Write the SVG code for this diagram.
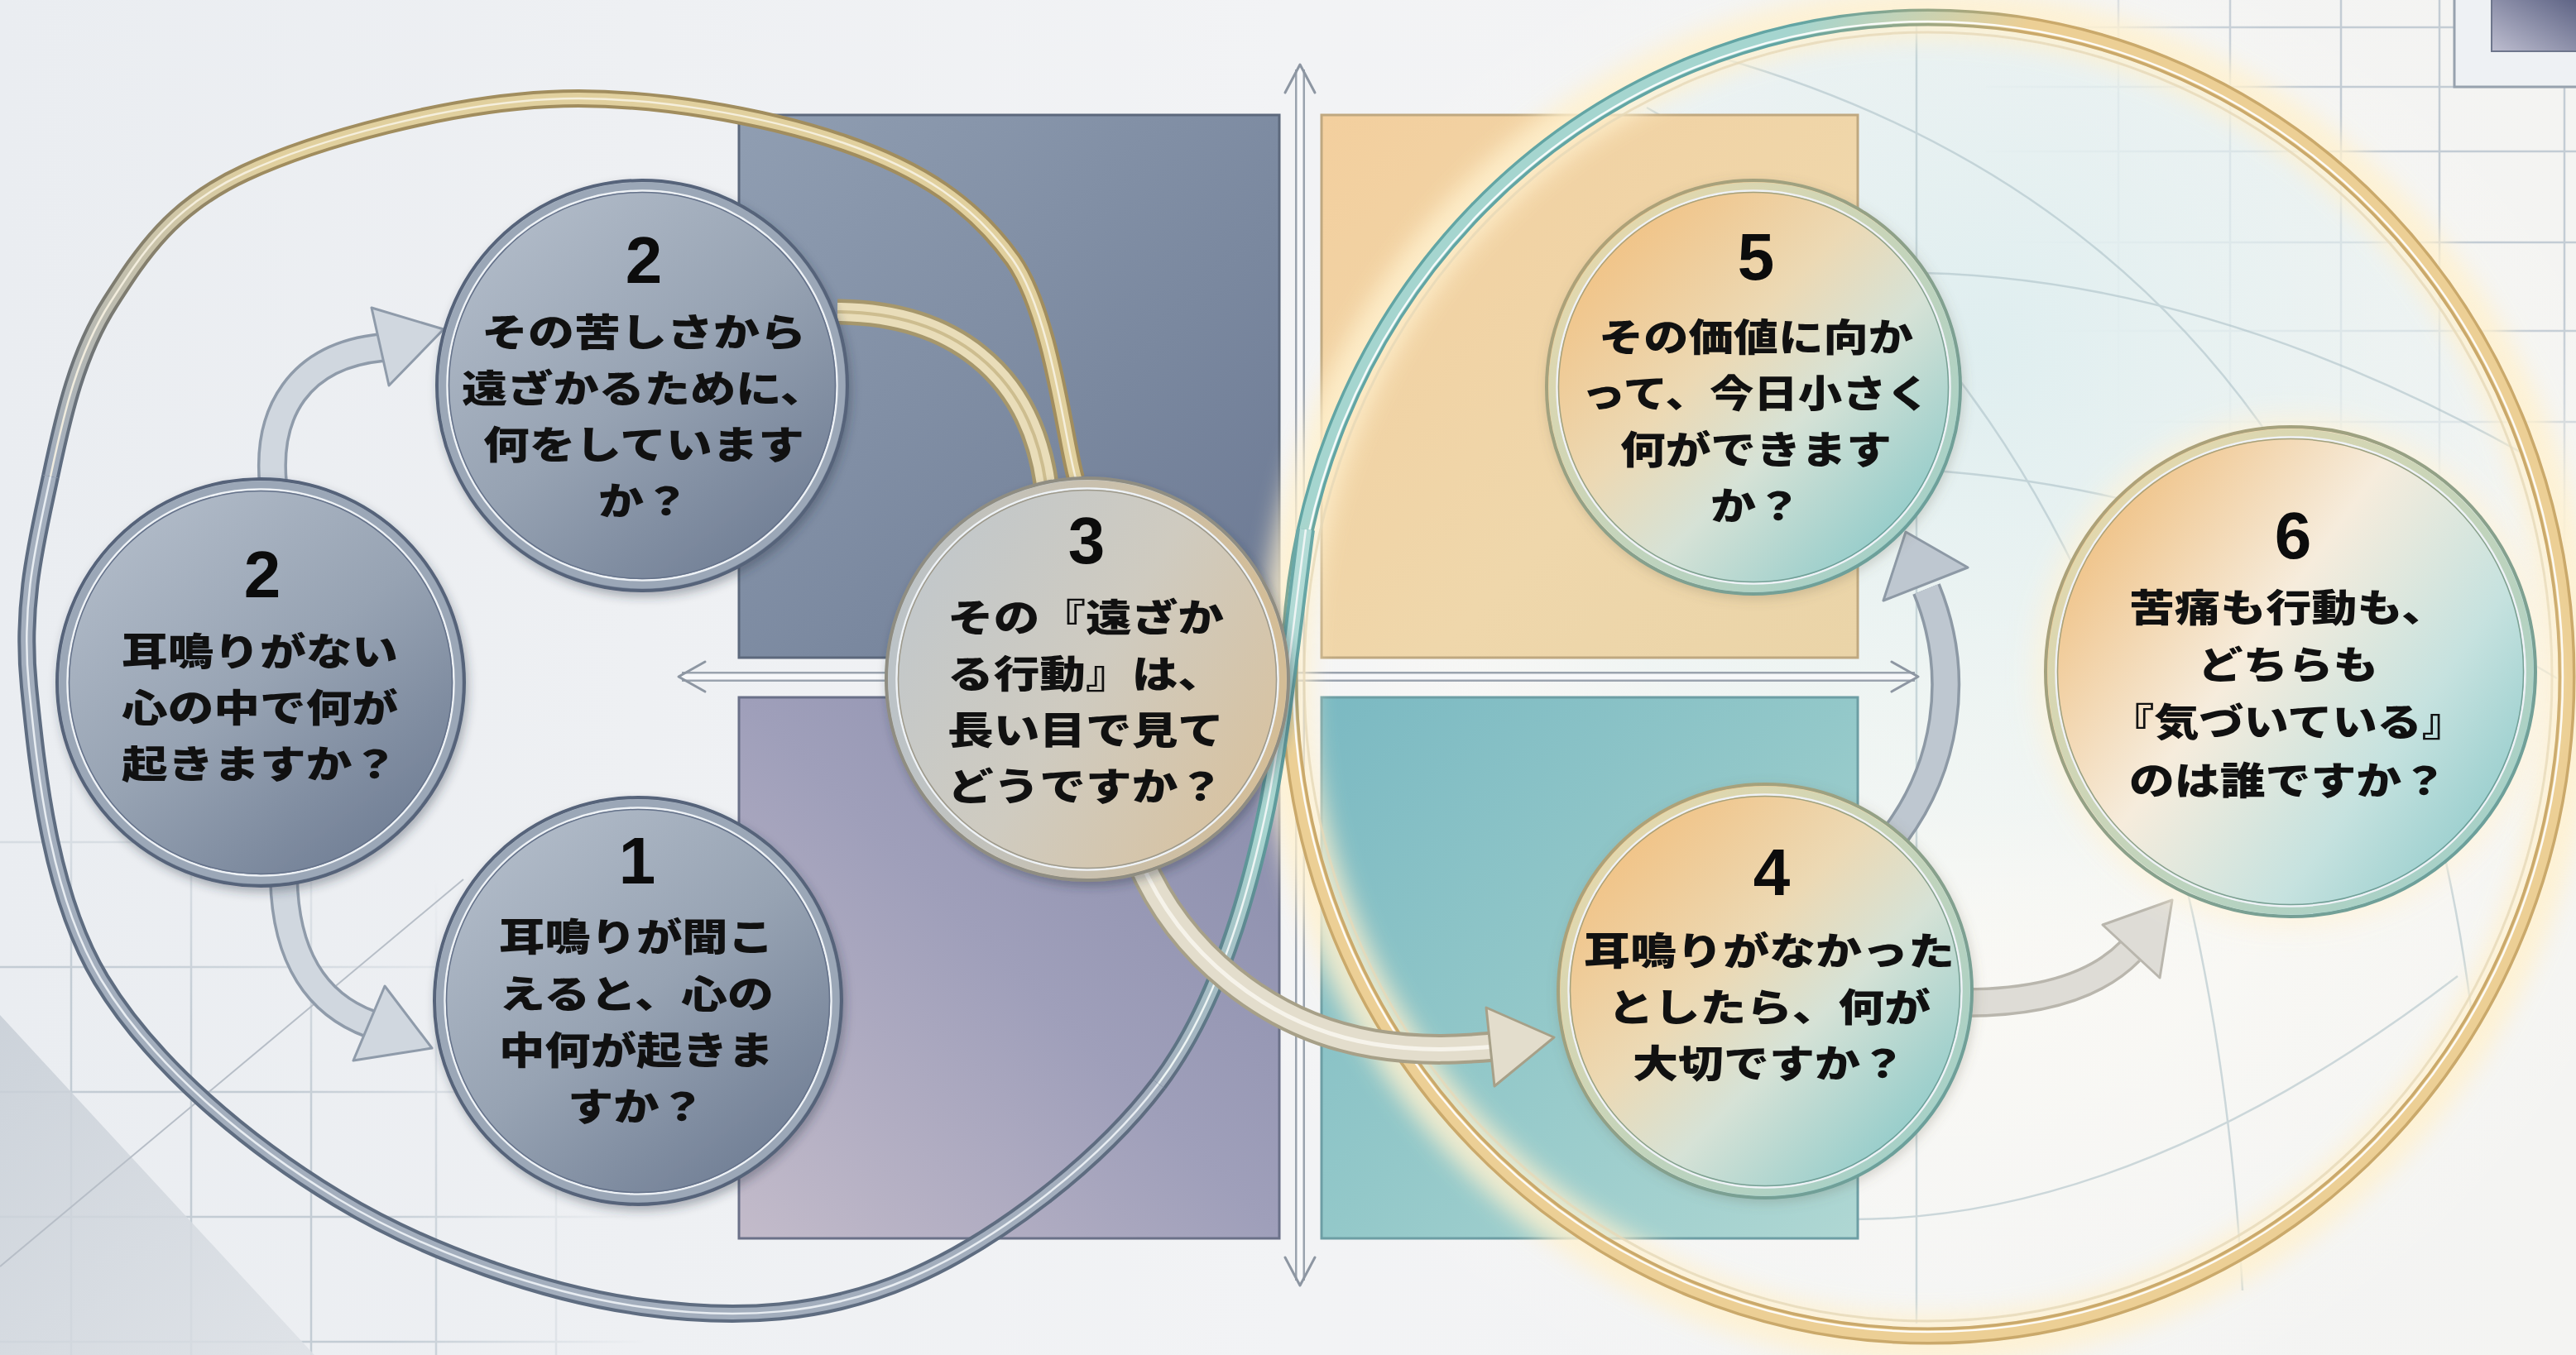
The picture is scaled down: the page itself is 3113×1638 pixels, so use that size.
<svg xmlns="http://www.w3.org/2000/svg" width="3113" height="1638" viewBox="0 0 3113 1638">
<defs>
<style>
.t{font-family:'Noto Sans CJK JP','Noto Sans CJK SC',sans-serif;font-weight:900;font-size:46px;fill:#111;text-anchor:middle;dominant-baseline:central}
.n{font-family:'Liberation Sans',Arial,sans-serif;font-weight:700;font-size:80px;fill:#0c0c0c;text-anchor:middle;dominant-baseline:central}
.grid line{stroke:#c3ccd4;stroke-width:2.5}
.s0{fill:url(#gSlate);stroke:#56647a;stroke-width:4}
.s1{fill:none;stroke:#9ba7b7;stroke-width:9}
.s2{fill:none;stroke:#eef2f6;stroke-width:2.5}
.s3{fill:none;stroke:#65728a;stroke-width:1.5}
.w0{fill:url(#gWarm);stroke:url(#gWarmEdge);stroke-width:4}
.w6{fill:url(#gWarm6);stroke:url(#gWarmEdge);stroke-width:4}
.w1{fill:none;stroke:url(#gWarmBand);stroke-width:9}
.w3{fill:none;stroke:url(#gWarmEdge);stroke-width:1.5}
.m0{fill:url(#gN3);stroke:#8f8d82;stroke-width:4}
.m1{fill:none;stroke:url(#gN3Band);stroke-width:9}
.ax{stroke:#9aa3ae;stroke-width:12;fill:none}
.axi{stroke:#f7f8fa;stroke-width:7;fill:none}
.chev{stroke:#8d96a2;stroke-width:3;fill:none;stroke-linecap:round;stroke-linejoin:round}
.ga-o{fill:none;stroke:#8f9baa;stroke-width:36;stroke-linecap:butt}
.ga-i{fill:none;stroke:#d0d7df;stroke-width:29;stroke-linecap:butt}
.ga-h{fill:#d0d7df;stroke:#8f9baa;stroke-width:3;stroke-linejoin:round}
</style>
<linearGradient id="bg" x1="0" y1="0" x2="1" y2="0"><stop offset="0" stop-color="#eaedf1"/><stop offset="0.5" stop-color="#f2f3f5"/><stop offset="1" stop-color="#f4f4f2"/></linearGradient>
<radialGradient id="glowBg" gradientUnits="userSpaceOnUse" cx="2330" cy="820" r="950"><stop offset="0" stop-color="#fffdf6" stop-opacity="0.9"/><stop offset="1" stop-color="#fffdf6" stop-opacity="0"/></radialGradient>
<radialGradient id="ringFill" gradientUnits="userSpaceOnUse" cx="2400" cy="420" r="800"><stop offset="0" stop-color="#dcedef" stop-opacity="0.9"/><stop offset="0.7" stop-color="#e6f0f1" stop-opacity="0.5"/><stop offset="1" stop-color="#f4f4f2" stop-opacity="0"/></radialGradient>
<linearGradient id="gSlate" x1="0.15" y1="0.05" x2="0.85" y2="0.95"><stop offset="0" stop-color="#b3bdca"/><stop offset="0.5" stop-color="#97a3b3"/><stop offset="1" stop-color="#6d7b92"/></linearGradient>
<linearGradient id="gN3" x1="0" y1="0.2" x2="1" y2="0.8"><stop offset="0" stop-color="#c0c7cc"/><stop offset="0.5" stop-color="#cfcbc0"/><stop offset="1" stop-color="#d9c19c"/></linearGradient>
<linearGradient id="gN3Band" x1="0" y1="0" x2="1" y2="0"><stop offset="0" stop-color="#bcc3c7"/><stop offset="1" stop-color="#d4bd96"/></linearGradient>
<linearGradient id="gWarm" x1="0.1" y1="0.1" x2="0.9" y2="0.9"><stop offset="0" stop-color="#f2bf7e"/><stop offset="0.4" stop-color="#ecd9b4"/><stop offset="0.62" stop-color="#d6e2d6"/><stop offset="1" stop-color="#88c8c8"/></linearGradient>
<linearGradient id="gWarm6" x1="0.05" y1="0.2" x2="0.95" y2="0.85"><stop offset="0" stop-color="#efbf80"/><stop offset="0.4" stop-color="#f6ecdc"/><stop offset="0.72" stop-color="#c6e2df"/><stop offset="1" stop-color="#8fcaca"/></linearGradient>
<linearGradient id="gWarmEdge" x1="0" y1="0" x2="1" y2="1"><stop offset="0" stop-color="#bba271"/><stop offset="1" stop-color="#5f9fa1"/></linearGradient>
<linearGradient id="gWarmBand" x1="0" y1="0" x2="1" y2="1"><stop offset="0" stop-color="#eed9a8"/><stop offset="1" stop-color="#9ccfcc"/></linearGradient>
<linearGradient id="gR1" x1="0" y1="0" x2="1" y2="1"><stop offset="0" stop-color="#909eb2"/><stop offset="0.6" stop-color="#7a889f"/><stop offset="1" stop-color="#6b7893"/></linearGradient>
<linearGradient id="gR2" x1="0" y1="1" x2="1" y2="0"><stop offset="0" stop-color="#c3bbca"/><stop offset="0.5" stop-color="#9f9fba"/><stop offset="1" stop-color="#898cab"/></linearGradient>
<linearGradient id="gR3" x1="0" y1="0" x2="1" y2="1"><stop offset="0" stop-color="#f3cf9e"/><stop offset="0.6" stop-color="#efd7ab"/><stop offset="1" stop-color="#ead4a8"/></linearGradient>
<linearGradient id="gR4" x1="0" y1="0" x2="1" y2="1"><stop offset="0" stop-color="#7bb9c2"/><stop offset="0.5" stop-color="#93c8c9"/><stop offset="1" stop-color="#afd7d3"/></linearGradient>
<linearGradient id="gSq" x1="0" y1="1" x2="1" y2="0"><stop offset="0" stop-color="#bdbdcf"/><stop offset="1" stop-color="#585e80"/></linearGradient>
<linearGradient id="gTri" x1="0" y1="0" x2="1" y2="1"><stop offset="0" stop-color="#c7ced6"/><stop offset="1" stop-color="#dde1e6"/></linearGradient>
<linearGradient id="gAo" gradientUnits="userSpaceOnUse" x1="70" y1="560" x2="330" y2="190"><stop offset="0" stop-color="#5e6c80"/><stop offset="1" stop-color="#a18d5e"/></linearGradient>
<linearGradient id="gAi" gradientUnits="userSpaceOnUse" x1="70" y1="560" x2="330" y2="190"><stop offset="0" stop-color="#a3aebd"/><stop offset="1" stop-color="#e1d09e"/></linearGradient>
<linearGradient id="gB2o" x1="0" y1="1" x2="0" y2="0"><stop offset="0" stop-color="#5e6c80"/><stop offset="0.45" stop-color="#5e9a9b"/><stop offset="1" stop-color="#6aa9a8"/></linearGradient>
<linearGradient id="gB2i" x1="0" y1="1" x2="0" y2="0"><stop offset="0" stop-color="#a3aebd"/><stop offset="0.45" stop-color="#a8d4cf"/><stop offset="1" stop-color="#b4dcd7"/></linearGradient>
<linearGradient id="gRo" gradientUnits="userSpaceOnUse" x1="1100" y1="1100" x2="1240" y2="1240"><stop offset="0" stop-color="#62a5a4"/><stop offset="1" stop-color="#caa96b"/></linearGradient>
<linearGradient id="gRi" gradientUnits="userSpaceOnUse" x1="1100" y1="1100" x2="1240" y2="1240"><stop offset="0" stop-color="#a5d5cf"/><stop offset="1" stop-color="#eccf95"/></linearGradient>
<radialGradient id="gMTR" gradientUnits="userSpaceOnUse" cx="3113" cy="0" r="760"><stop offset="0" stop-color="#fff"/><stop offset="0.5" stop-color="#fff"/><stop offset="1" stop-color="#000"/></radialGradient>
<radialGradient id="gMBL" gradientUnits="userSpaceOnUse" cx="0" cy="1638" r="780"><stop offset="0" stop-color="#fff"/><stop offset="0.6" stop-color="#fff"/><stop offset="1" stop-color="#000"/></radialGradient>
<mask id="mTR"><rect x="2400" y="0" width="713" height="800" fill="url(#gMTR)"/></mask>
<mask id="mBL"><rect x="0" y="850" width="800" height="788" fill="url(#gMBL)"/></mask>
<filter id="sh" x="-20%" y="-20%" width="140%" height="140%"><feDropShadow dx="3" dy="6" stdDeviation="6" flood-color="#27313f" flood-opacity="0.35"/></filter>
<filter id="shw" x="-20%" y="-20%" width="140%" height="140%"><feDropShadow dx="2" dy="4" stdDeviation="7" flood-color="#6b6550" flood-opacity="0.25"/></filter>
<filter id="blur" x="-10%" y="-10%" width="120%" height="120%"><feGaussianBlur stdDeviation="14"/></filter>
<filter id="blur2" x="-30%" y="-30%" width="160%" height="160%"><feGaussianBlur stdDeviation="18"/></filter>
</defs>

<rect width="3113" height="1638" fill="url(#bg)"/>
<rect width="3113" height="1638" fill="url(#glowBg)"/>

<g id="background-decor">
  <g class="grid" mask="url(#mBL)">
    <line x1="86" y1="900" x2="86" y2="1638"/>
    <line x1="231" y1="900" x2="231" y2="1638"/>
    <line x1="376" y1="900" x2="376" y2="1638"/>
    <line x1="527" y1="900" x2="527" y2="1638"/>
    <line x1="672" y1="900" x2="672" y2="1638"/>
    <line x1="0" y1="1018" x2="800" y2="1018"/>
    <line x1="0" y1="1169" x2="800" y2="1169"/>
    <line x1="0" y1="1320" x2="800" y2="1320"/>
    <line x1="0" y1="1471" x2="800" y2="1471"/>
    <line x1="0" y1="1622" x2="800" y2="1622"/>
  </g>
  <polygon points="0,1227 380,1638 0,1638" fill="url(#gTri)" opacity="0.85"/>
  <line x1="0" y1="1531" x2="560" y2="1063" stroke="#b7bec7" stroke-width="2"/>
  <g class="grid" mask="url(#mTR)">
    <line x1="2560" y1="0" x2="2560" y2="800"/>
    <line x1="2695" y1="0" x2="2695" y2="800"/>
    <line x1="2829" y1="0" x2="2829" y2="800"/>
    <line x1="2948" y1="0" x2="2948" y2="800"/>
    <line x1="3099" y1="0" x2="3099" y2="800"/>
    <line x1="2400" y1="33" x2="3113" y2="33"/>
    <line x1="2400" y1="105" x2="3113" y2="105"/>
    <line x1="2400" y1="183" x2="3113" y2="183"/>
    <line x1="2400" y1="293" x2="3113" y2="293"/>
    <line x1="2400" y1="400" x2="3113" y2="400"/>
    <line x1="2400" y1="510" x2="3113" y2="510"/>
  </g>
  <rect x="2966" y="-4" width="152" height="109" fill="#eef1f4" stroke="#97a2ae" stroke-width="3"/>
  <rect x="3011" y="-4" width="110" height="66" fill="url(#gSq)" stroke="#6e768c" stroke-width="2"/>
  <ellipse cx="2330" cy="818" rx="772" ry="797" fill="url(#ringFill)"/>
  <g fill="none" stroke="#a9bec5" stroke-width="2.5" opacity="0.55">
    <path d="M1640,520 Q2300,120 3070,560"/>
    <path d="M1610,700 Q2350,380 3090,820"/>
    <path d="M2080,70 Q2880,300 2990,1250"/>
    <path d="M1990,130 Q2650,500 2710,1560"/>
    <path d="M2316,30 L2316,1600"/>
    <path d="M1950,1420 Q2420,1600 2970,1180"/>
  </g>
</g>

<g id="quadrants">
  <rect x="893" y="139" width="653" height="656" fill="url(#gR1)" stroke="#5c687c" stroke-width="3"/>
  <rect x="893" y="843" width="653" height="654" fill="url(#gR2)" stroke="#6a7088" stroke-width="3"/>
  <rect x="1597" y="139" width="648" height="656" fill="url(#gR3)" stroke="#bfa880" stroke-width="3"/>
  <rect x="1597" y="843" width="648" height="654" fill="url(#gR4)" stroke="#6d9ea4" stroke-width="3"/>
</g>

<g id="axes">
  <line class="ax" x1="1571" y1="84" x2="1571" y2="1548"/>
  <line class="axi" x1="1571" y1="84" x2="1571" y2="1548"/>
  <line class="ax" x1="824" y1="818" x2="2314" y2="818"/>
  <line class="axi" x1="824" y1="818" x2="2314" y2="818"/>
  <polyline class="chev" points="1553,112 1571,78 1589,112"/>
  <polyline class="chev" points="1553,1520 1571,1554 1589,1520"/>
  <polyline class="chev" points="852,800 820,818 852,836"/>
  <polyline class="chev" points="2286,800 2318,818 2286,836"/>
</g>

<g id="right-ring">
  <ellipse cx="2330" cy="818" rx="776" ry="801" fill="none" stroke="#fff1cf" stroke-width="60" opacity="0.85" filter="url(#blur)"/>
  <ellipse cx="2330" cy="818" rx="772" ry="797" fill="none" stroke="url(#gRo)" stroke-width="21"/>
  <ellipse cx="2330" cy="818" rx="772" ry="797" fill="none" stroke="url(#gRi)" stroke-width="14"/>
  <ellipse cx="2330" cy="818" rx="767" ry="792" fill="none" stroke="#ffffff" stroke-width="2.5" opacity="0.9"/>
  <ellipse cx="2330" cy="818" rx="754" ry="779" fill="none" stroke="#e6d8b8" stroke-width="3" opacity="0.8"/>
</g>

<g id="left-ring">
  <path d="M1300,578 C1287,534 1271,381 1224,314 C1176,247 1113.5,205.3 1020,173 C926.5,140.7 783.7,114 663,120 C542.3,126 384.3,168 296,209 C207.7,250 172.2,304.8 133,366 C93.8,427.2 77.3,498.7 61,576" fill="none" stroke="url(#gAo)" stroke-width="22"/>
  <path d="M1300,578 C1287,534 1271,381 1224,314 C1176,247 1113.5,205.3 1020,173 C926.5,140.7 783.7,114 663,120 C542.3,126 384.3,168 296,209 C207.7,250 172.2,304.8 133,366 C93.8,427.2 77.3,498.7 61,576" fill="none" stroke="url(#gAi)" stroke-width="14"/>
  <path d="M1300,578 C1287,534 1271,381 1224,314 C1176,247 1113.5,205.3 1020,173 C926.5,140.7 783.7,114 663,120 C542.3,126 384.3,168 296,209 C207.7,250 172.2,304.8 133,366 C93.8,427.2 77.3,498.7 61,576" fill="none" stroke="#f7f2e2" stroke-width="2.5" opacity="0.9"/>
  <path d="M61,576 C44.7,653.3 24.8,728.7 35,830 C45.2,931.3 59.8,1080.8 122,1184 C184.2,1287.2 299,1383 408,1449 C517,1515 660.7,1564 776,1580 C891.3,1596 996,1590 1100,1545 C1204,1500 1328.2,1404.8 1400,1310" fill="none" stroke="#5e6c80" stroke-width="22"/>
  <path d="M61,576 C44.7,653.3 24.8,728.7 35,830 C45.2,931.3 59.8,1080.8 122,1184 C184.2,1287.2 299,1383 408,1449 C517,1515 660.7,1564 776,1580 C891.3,1596 996,1590 1100,1545 C1204,1500 1328.2,1404.8 1400,1310" fill="none" stroke="#a3aebd" stroke-width="14"/>
  <path d="M61,576 C44.7,653.3 24.8,728.7 35,830 C45.2,931.3 59.8,1080.8 122,1184 C184.2,1287.2 299,1383 408,1449 C517,1515 660.7,1564 776,1580 C891.3,1596 996,1590 1100,1545 C1204,1500 1328.2,1404.8 1400,1310" fill="none" stroke="#e8edf2" stroke-width="2.5"/>
  <path d="M1400,1310 C1471.8,1215.2 1509,1081 1531,976 C1550,880 1562,760 1578,640" fill="none" stroke="url(#gB2o)" stroke-width="22"/>
  <path d="M1400,1310 C1471.8,1215.2 1509,1081 1531,976 C1550,880 1562,760 1578,640" fill="none" stroke="url(#gB2i)" stroke-width="14"/>
  <path d="M1400,1310 C1471.8,1215.2 1509,1081 1531,976 C1550,880 1562,760 1578,640" fill="none" stroke="#eef5f4" stroke-width="2.5"/>
</g>

<g id="connectors">
  <path d="M1012,377 C1150,378 1245,450 1264,585" fill="none" stroke="#a6976c" stroke-width="31"/>
  <path d="M1012,377 C1150,378 1245,450 1264,585" fill="none" stroke="#e9ddb9" stroke-width="22"/>
  <path d="M1012,377 C1150,378 1245,450 1264,585" fill="none" stroke="#cdbd8f" stroke-width="4"/>
  <path d="M1378,1040 C1425,1150 1530,1240 1660,1262 C1720,1272 1770,1268 1806,1265" fill="none" stroke="#a7a088" stroke-width="37"/>
  <path d="M1378,1040 C1425,1150 1530,1240 1660,1262 C1720,1272 1770,1268 1806,1265" fill="none" stroke="#e3ddcc" stroke-width="29"/>
  <path d="M1378,1040 C1425,1150 1530,1240 1660,1262 C1720,1272 1770,1268 1806,1265" fill="none" stroke="#f6f3ea" stroke-width="5"/>
  <polygon points="1878,1254 1796,1218 1806,1313" fill="#e3ddcc" stroke="#a7a088" stroke-width="3" stroke-linejoin="round"/>
  <path class="ga-o" d="M330,585 C322,500 360,430 462,420"/>
  <path class="ga-i" d="M330,585 C322,500 360,430 462,420"/>
  <polygon class="ga-h" points="536,398 449,372 470,466"/>
  <path class="ga-o" d="M343,1062 C345,1160 385,1215 448,1238"/>
  <path class="ga-i" d="M343,1062 C345,1160 385,1215 448,1238"/>
  <polygon class="ga-h" points="522,1267 465,1192 427,1282"/>
  <path d="M2290,1010 C2350,930 2372,820 2328,712" fill="none" stroke="#8d99a5" stroke-width="36"/>
  <path d="M2290,1010 C2350,930 2372,820 2328,712" fill="none" stroke="#bec7d0" stroke-width="29"/>
  <polygon points="2303,643 2276,726 2378,686" fill="#bec7d0" stroke="#8d99a5" stroke-width="3" stroke-linejoin="round"/>
  <path d="M2375,1212 C2460,1212 2530,1195 2574,1150" fill="none" stroke="#b9b6ad" stroke-width="36"/>
  <path d="M2375,1212 C2460,1212 2530,1195 2574,1150" fill="none" stroke="#dedcd6" stroke-width="29"/>
  <polygon points="2625,1088 2541,1118 2610,1182" fill="#dedcd6" stroke="#b9b6ad" stroke-width="3" stroke-linejoin="round"/>
</g>

<g id="node-2-top">
  <circle class="s0" cx="776" cy="466" r="248" filter="url(#sh)"/>
  <circle class="s1" cx="776" cy="466" r="241"/>
  <circle class="s2" cx="776" cy="466" r="235.5"/>
  <circle class="s3" cx="776" cy="466" r="233.5"/>
  <text class="n" x="778" y="314">2</text>
  <text class="t" x="778" y="398" textLength="392" lengthAdjust="spacingAndGlyphs">その苦しさから</text>
  <text class="t" x="778" y="466" textLength="440" lengthAdjust="spacingAndGlyphs">遠ざかるために、</text>
  <text class="t" x="778" y="534" textLength="388" lengthAdjust="spacingAndGlyphs">何をしています</text>
  <text class="t" x="778" y="602" textLength="110" lengthAdjust="spacingAndGlyphs">か？</text>
</g>

<g id="node-2-left">
  <circle class="s0" cx="315" cy="825" r="246" filter="url(#sh)"/>
  <circle class="s1" cx="315" cy="825" r="239"/>
  <circle class="s2" cx="315" cy="825" r="233.5"/>
  <circle class="s3" cx="315" cy="825" r="231.5"/>
  <text class="n" x="317" y="694">2</text>
  <text class="t" x="314" y="784" textLength="334" lengthAdjust="spacingAndGlyphs">耳鳴りがない</text>
  <text class="t" x="314" y="852" textLength="334" lengthAdjust="spacingAndGlyphs">心の中で何が</text>
  <text class="t" x="314" y="920" textLength="334" lengthAdjust="spacingAndGlyphs">起きますか？</text>
</g>

<g id="node-1">
  <circle class="s0" cx="771" cy="1210" r="246" filter="url(#sh)"/>
  <circle class="s1" cx="771" cy="1210" r="239"/>
  <circle class="s2" cx="771" cy="1210" r="233.5"/>
  <circle class="s3" cx="771" cy="1210" r="231.5"/>
  <text class="n" x="770" y="1040">1</text>
  <text class="t" x="769" y="1129" textLength="332" lengthAdjust="spacingAndGlyphs">耳鳴りが聞こ</text>
  <text class="t" x="769" y="1198" textLength="332" lengthAdjust="spacingAndGlyphs">えると、心の</text>
  <text class="t" x="769" y="1266" textLength="332" lengthAdjust="spacingAndGlyphs">中何が起きま</text>
  <text class="t" x="769" y="1334" textLength="166" lengthAdjust="spacingAndGlyphs">すか？</text>
</g>

<g id="node-3">
  <circle class="m0" cx="1314" cy="821" r="243" filter="url(#sh)"/>
  <circle class="m1" cx="1314" cy="821" r="236"/>
  <circle class="s2" cx="1314" cy="821" r="230.5"/>
  <circle cx="1314" cy="821" r="228.5" fill="none" stroke="#9e9a8c" stroke-width="1.5"/>
  <text class="n" x="1313" y="653">3</text>
  <text class="t" x="1312" y="743" textLength="334" lengthAdjust="spacingAndGlyphs">その『遠ざか</text>
  <text class="t" x="1312" y="811" textLength="334" lengthAdjust="spacingAndGlyphs">る行動』は、</text>
  <text class="t" x="1312" y="879" textLength="334" lengthAdjust="spacingAndGlyphs">長い目で見て</text>
  <text class="t" x="1312" y="947" textLength="334" lengthAdjust="spacingAndGlyphs">どうですか？</text>
</g>

<g id="node-5">
  <circle class="w0" cx="2119" cy="468" r="250" filter="url(#shw)"/>
  <circle class="w1" cx="2119" cy="468" r="243"/>
  <circle class="s2" cx="2119" cy="468" r="237.5"/>
  <circle class="w3" cx="2119" cy="468" r="235.5"/>
  <text class="n" x="2122" y="310">5</text>
  <text class="t" x="2122" y="404" textLength="380" lengthAdjust="spacingAndGlyphs">その価値に向か</text>
  <text class="t" x="2122" y="472" textLength="422" lengthAdjust="spacingAndGlyphs">って、今日小さく</text>
  <text class="t" x="2122" y="540" textLength="328" lengthAdjust="spacingAndGlyphs">何ができます</text>
  <text class="t" x="2122" y="608" textLength="110" lengthAdjust="spacingAndGlyphs">か？</text>
</g>

<g id="node-4">
  <circle class="w0" cx="2133" cy="1198" r="250" filter="url(#shw)"/>
  <circle class="w1" cx="2133" cy="1198" r="243"/>
  <circle class="s2" cx="2133" cy="1198" r="237.5"/>
  <circle class="w3" cx="2133" cy="1198" r="235.5"/>
  <text class="n" x="2141" y="1054">4</text>
  <text class="t" x="2138" y="1146" textLength="448" lengthAdjust="spacingAndGlyphs">耳鳴りがなかった</text>
  <text class="t" x="2138" y="1214" textLength="390" lengthAdjust="spacingAndGlyphs">としたら、何が</text>
  <text class="t" x="2138" y="1282" textLength="330" lengthAdjust="spacingAndGlyphs">大切ですか？</text>
</g>

<g id="node-6">
  <circle cx="2768" cy="812" r="305" fill="#fff3d8" opacity="0.9" filter="url(#blur2)"/>
  <circle class="w6" cx="2768" cy="812" r="296"/>
  <circle class="w1" cx="2768" cy="812" r="289"/>
  <circle class="s2" cx="2768" cy="812" r="283.5"/>
  <circle class="w3" cx="2768" cy="812" r="281.5"/>
  <text class="n" x="2771" y="647">6</text>
  <text class="t" x="2765" y="731" textLength="384" lengthAdjust="spacingAndGlyphs">苦痛も行動も、</text>
  <text class="t" x="2765" y="800" textLength="218" lengthAdjust="spacingAndGlyphs">どちらも</text>
  <text class="t" x="2765" y="869" textLength="432" lengthAdjust="spacingAndGlyphs">『気づいている』</text>
  <text class="t" x="2765" y="940" textLength="384" lengthAdjust="spacingAndGlyphs">のは誰ですか？</text>
</g>
</svg>
